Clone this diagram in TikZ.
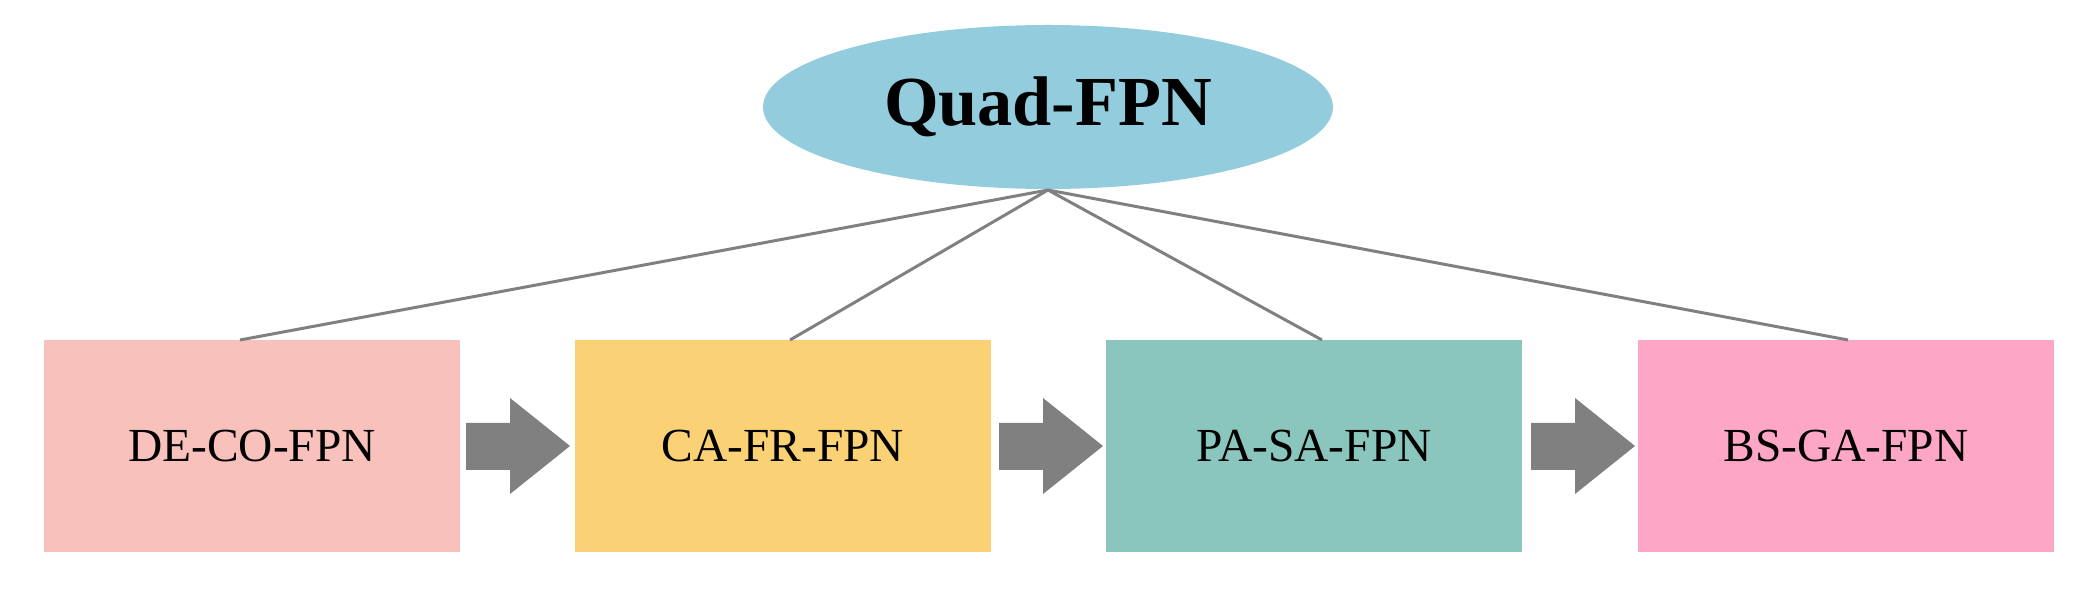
\documentclass[tikz,border=0pt]{standalone}
\usepackage{fontspec}
\setmainfont{Liberation Serif}
\usetikzlibrary{shapes.geometric}
\definecolor{ell}{HTML}{93CDDD}
\definecolor{ca}{HTML}{F8C1BB}
\definecolor{cb}{HTML}{FBD176}
\definecolor{cc}{HTML}{8AC6BD}
\definecolor{cd}{HTML}{FEA6C6}
\begin{document}
\begin{tikzpicture}[x=0.02cm,y=-0.02cm,
 box/.style={draw=none,minimum width=416*0.02cm,minimum height=212*0.02cm,inner sep=0,font=\fontsize{27}{30}\selectfont},
 link/.style={draw=gray,line width=1.7pt},
 barrow/.style={fill=gray,draw=none}]
\useasboundingbox (0,0) rectangle (2097,594);
\node[ellipse,fill=ell,minimum width=570*0.02cm,minimum height=164*0.02cm,inner sep=0,font=\fontsize{40}{44}\selectfont\bfseries] (q) at (1048,107) {Quad-FPN};
\node[box,fill=ca] (a) at (252,446) {DE-CO-FPN};
\node[box,fill=cb] (b) at (783,446) {CA-FR-FPN};
\node[box,fill=cc] (c) at (1314,446) {PA-SA-FPN};
\node[box,fill=cd] (d) at (1846,446) {BS-GA-FPN};
\coordinate (top) at (1048,190);
\draw[link] (top) -- (240,340);
\draw[link] (top) -- (790,340);
\draw[link] (top) -- (1322,340);
\draw[link] (top) -- (1848,340);
\foreach \s in {466,999,1531}{
 \fill[barrow] (\s,423) -- (\s+44,423) -- (\s+44,398) -- (\s+104,446) -- (\s+44,494) -- (\s+44,470) -- (\s,470) -- cycle;}
\end{tikzpicture}
\end{document}
